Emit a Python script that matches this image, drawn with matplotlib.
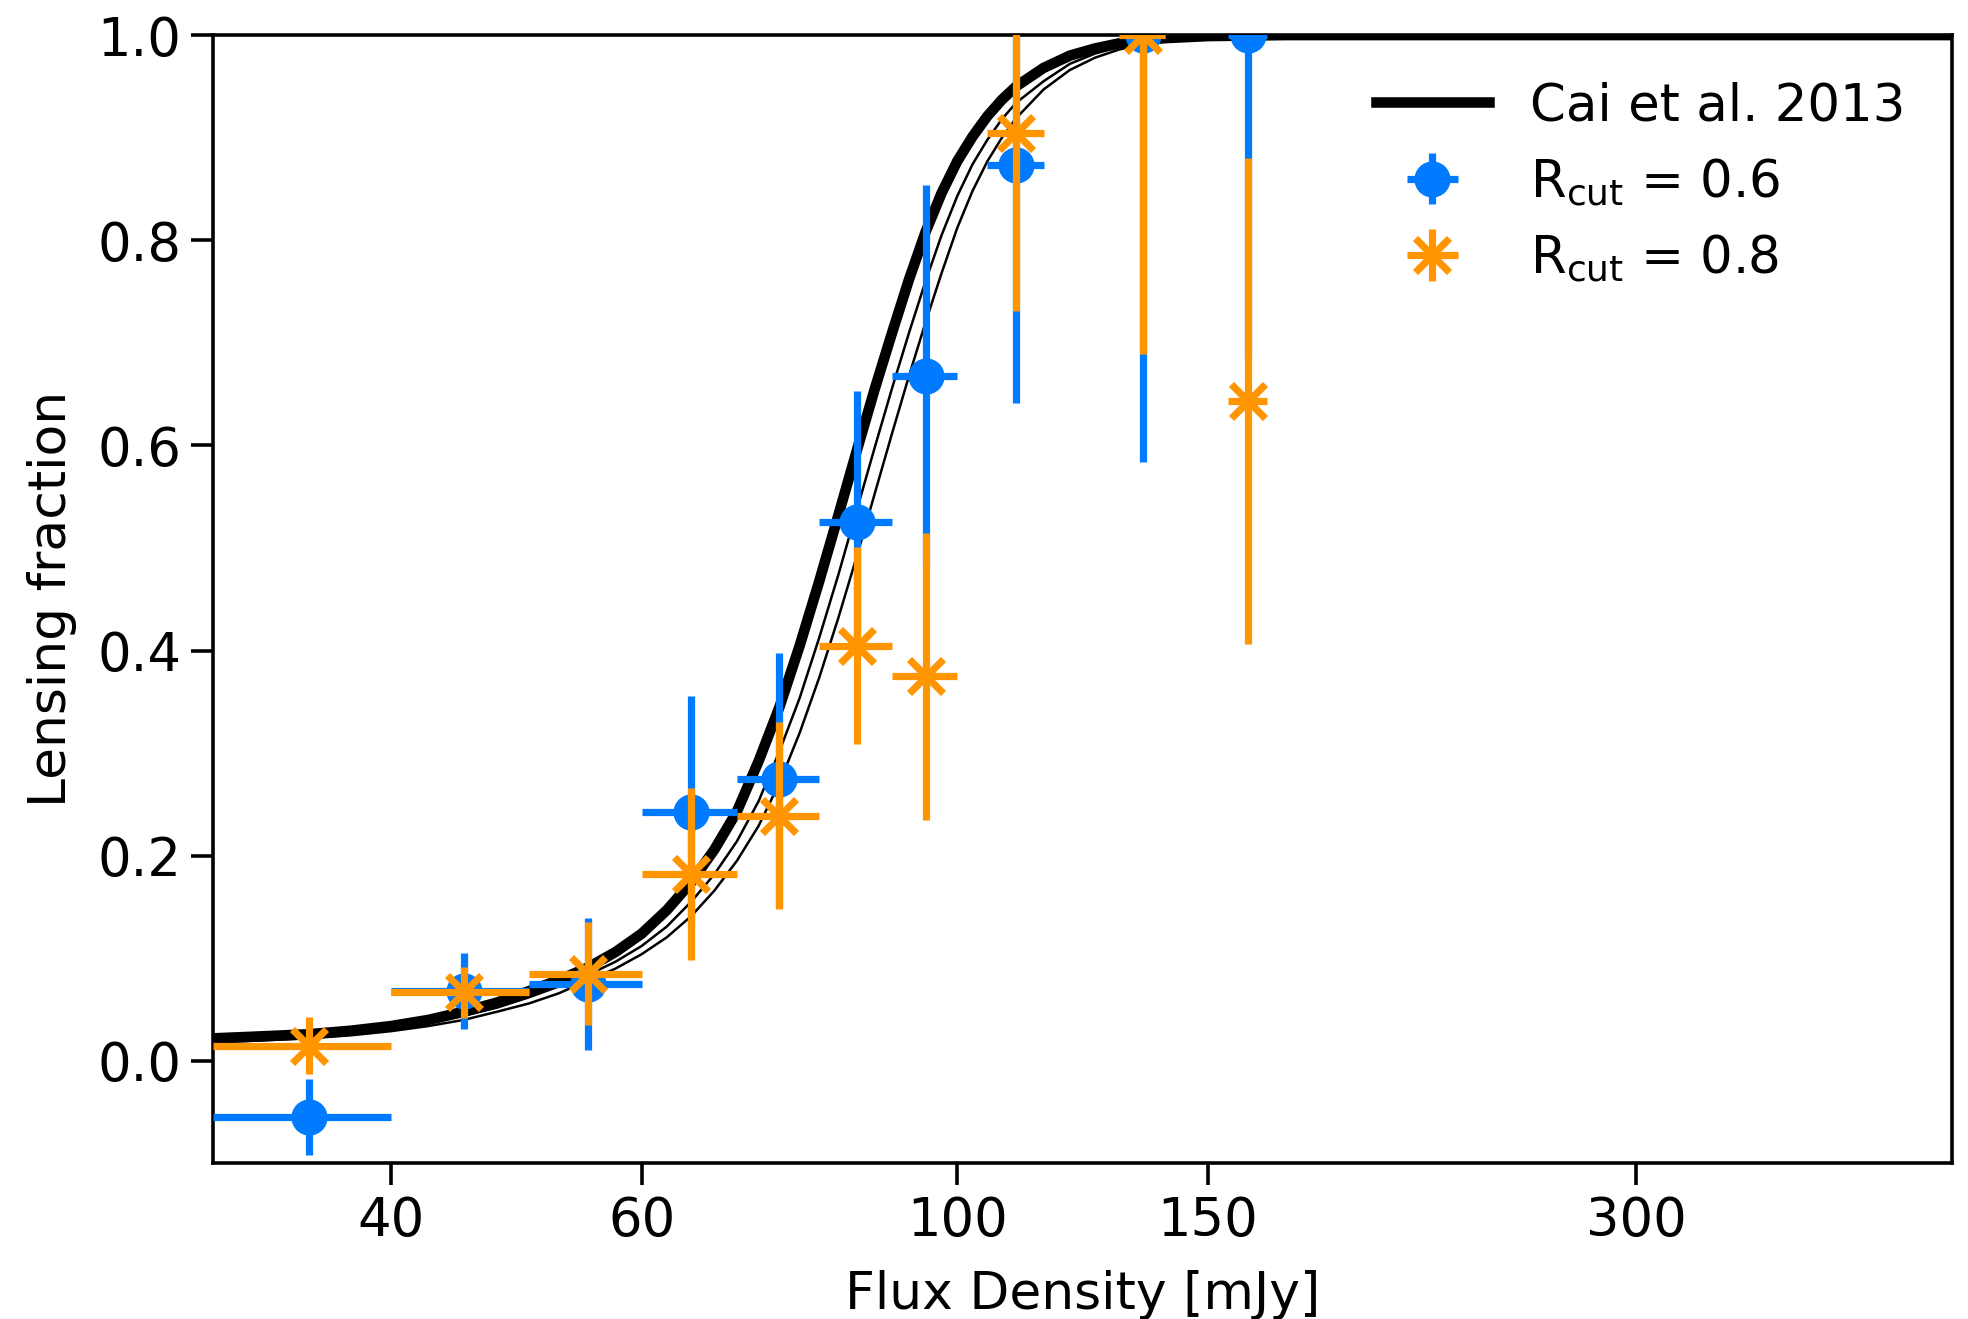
import matplotlib
matplotlib.use("Agg")
import matplotlib.pyplot as plt
from matplotlib.ticker import FixedLocator, FixedFormatter, NullLocator

# model curves (Cai et al. 2013)
model_flux = [30, 32.5, 35, 37.5, 40, 42.5, 45, 47.5, 50, 52.5, 55, 57.5,
              60, 62.5, 65, 67.5, 70, 72.5, 75, 77.5, 80, 82.5, 85, 87.5,
              90, 92.5, 95, 97.5, 100, 102.5, 105, 107.5, 110, 115, 120,
              125, 130, 135, 140, 150, 170, 200, 500]
model_main = [0.022, 0.024, 0.026, 0.0295, 0.034, 0.040, 0.048, 0.057,
              0.068, 0.079, 0.091, 0.106, 0.124, 0.147, 0.174, 0.206,
              0.243, 0.292, 0.345, 0.405, 0.468, 0.532, 0.595, 0.655,
              0.71, 0.762, 0.808, 0.846, 0.877, 0.901, 0.921, 0.937,
              0.950, 0.968, 0.980, 0.987, 0.992, 0.995, 0.997, 0.999,
              1.0, 1.0, 1.0]
model_alt1 = [0.020, 0.022, 0.024, 0.027, 0.031, 0.037, 0.044, 0.052,
              0.062, 0.0727, 0.0838, 0.0966, 0.112, 0.131, 0.155, 0.182,
              0.214, 0.253, 0.302, 0.354, 0.413, 0.474, 0.537, 0.598,
              0.656, 0.710, 0.760, 0.805, 0.843, 0.874, 0.898, 0.918,
              0.934, 0.955, 0.972, 0.982, 0.9885, 0.993, 0.9955, 0.998,
              1.0, 1.0, 1.0]
model_alt2 = [0.018, 0.020, 0.022, 0.025, 0.029, 0.034, 0.040, 0.048,
              0.056, 0.066, 0.0785, 0.0899, 0.104, 0.1205, 0.141, 0.166,
              0.195, 0.229, 0.271, 0.32, 0.374, 0.432, 0.492, 0.553,
              0.612, 0.668, 0.72, 0.768, 0.812, 0.848, 0.877, 0.900,
              0.919, 0.947, 0.966, 0.978, 0.986, 0.991, 0.994, 0.998,
              1.0, 1.0, 1.0]

# measured lensing fractions
flux = [35, 45, 55, 65, 75, 85, 95, 110, 135, 160]
flux_lo = [30, 40, 50, 60, 70, 80, 90, 105, 130, 155]
flux_hi = [40, 50, 60, 70, 80, 90, 100, 115, 140, 165]

frac_06 = [-0.055, 0.068, 0.075, 0.2425, 0.275, 0.525, 0.668, 0.873, 1.0, 1.0]
err_06 = [0.037, 0.037, 0.064, 0.113, 0.123, 0.128, 0.186, 0.232, 0.416, 0.314]

frac_08 = [0.015, 0.067, 0.085, 0.182, 0.239, 0.4045, 0.375, 0.905, 1.0, 0.643]
err_08 = [0.028, 0.025, 0.05, 0.084, 0.091, 0.096, 0.14, 0.174, 0.311, 0.237]

xticks = [40, 60, 100, 150, 300]

blue = '#007bff'
orange = '#ff9500'

xerr = [[f - lo for f, lo in zip(flux, flux_lo)],
        [hi - f for f, hi in zip(flux, flux_hi)]]

fig = plt.figure(figsize=(9.84, 6.595), dpi=200)
ax = fig.add_axes([0.1084, 0.1179, 0.8833, 0.8555])

ax.plot(model_flux, model_alt2, color='k', lw=0.9, zorder=1)
ax.plot(model_flux, model_alt1, color='k', lw=0.9, zorder=1)
ax.plot(model_flux, model_main, color='k', lw=3.8, zorder=2,
        label='Cai et al. 2013')

ax.errorbar(flux, frac_06, yerr=err_06, xerr=xerr, fmt='o', color=blue,
            ms=12, elinewidth=2.6, capsize=0, zorder=3,
            label=r'R$_{\rm cut}$ = 0.6')
ax.errorbar(flux, frac_08, yerr=err_08, xerr=xerr, fmt='x', color=orange,
            ms=12, mew=2.6, elinewidth=2.6, capsize=0, zorder=4,
            label=r'R$_{\rm cut}$ = 0.8')

ax.set_xscale('log')
ax.set_xlim(30, 500)
ax.set_ylim(-0.1, 1.0)
ax.xaxis.set_major_locator(FixedLocator(xticks))
ax.xaxis.set_major_formatter(FixedFormatter([str(t) for t in xticks]))
ax.xaxis.set_minor_locator(NullLocator())
ax.set_yticks([0.0, 0.2, 0.4, 0.6, 0.8, 1.0])

ax.tick_params(labelsize=19, length=8, width=1.3)
for s in ax.spines.values():
    s.set_linewidth(1.3)

ax.set_xlabel('Flux Density [mJy]', fontsize=18.7, labelpad=8)
ax.set_ylabel('Lensing fraction', fontsize=18.7, labelpad=7.5)

ax.legend(loc='upper right', frameon=False, fontsize=18.5,
          handlelength=2.2, handletextpad=0.8, labelspacing=0.48)

fig.savefig('out.png', dpi=200)
